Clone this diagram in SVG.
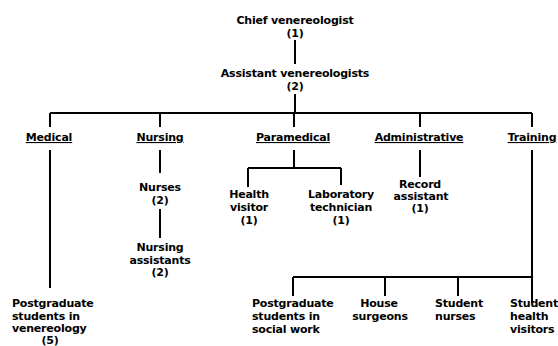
<svg xmlns="http://www.w3.org/2000/svg" width="558" height="346" viewBox="0 0 558 346">
<style>
text{font-family:"DejaVu Sans","Liberation Sans",Arial,sans-serif;font-weight:bold;font-size:11px;fill:#000;letter-spacing:-0.2px}
.c{text-anchor:middle}
.u{text-decoration:underline}
#connectors path{stroke:#000;stroke-width:2;fill:none}
</style>
<rect width="558" height="346" fill="#fff"/>
<g id="connectors">
<path d="M295 40V64M295 94V113M50 113H532M50 113V127M160 113V127M294 113V127M420 113V127M532 113V127"/>
<path d="M50 150V288M160 150V173M160 209V238M294 150V168M248 168H341M248 168V187M341 168V185M420 150V177"/>
<path d="M532 150V303M293 277H532M293 277V296M385 277V296M458 277V296"/>
</g>
<g id="chief"><text class="c" x="295" y="24">Chief venereologist</text><text class="c" x="295" y="37">(1)</text></g>
<g id="assistant"><text class="c" x="295" y="77">Assistant venereologists</text><text class="c" x="295" y="90">(2)</text></g>
<g id="medical"><text class="c u" x="49" y="141">Medical</text></g>
<g id="nursing"><text class="c u" x="160" y="141">Nursing</text></g>
<g id="paramedical"><text class="c u" x="293" y="141">Paramedical</text></g>
<g id="administrative"><text class="c u" x="419" y="141">Administrative</text></g>
<g id="training"><text class="c u" x="532" y="141">Training</text></g>
<g id="nurses"><text class="c" x="160" y="191">Nurses</text><text class="c" x="160" y="204">(2)</text></g>
<g id="nursing-assistants"><text class="c" x="160" y="251">Nursing</text><text class="c" x="160" y="264">assistants</text><text class="c" x="160" y="276">(2)</text></g>
<g id="health-visitor"><text class="c" x="249" y="198">Health</text><text class="c" x="249" y="211">visitor</text><text class="c" x="249" y="224">(1)</text></g>
<g id="lab-tech"><text class="c" x="341" y="198">Laboratory</text><text class="c" x="341" y="211">technician</text><text class="c" x="341" y="224">(1)</text></g>
<g id="record"><text class="c" x="420" y="188">Record</text><text class="c" x="421" y="200">assistant</text><text class="c" x="420" y="212">(1)</text></g>
<g id="pg-venereology"><text x="12" y="307">Postgraduate</text><text x="12" y="320">students in</text><text x="12" y="332">venereology</text><text class="c" x="50" y="344">(5)</text></g>
<g id="pg-social"><text x="252" y="307">Postgraduate</text><text x="252" y="320">students in</text><text x="252" y="333">social work</text></g>
<g id="house"><text class="c" x="379" y="307">House</text><text class="c" x="380" y="320">surgeons</text></g>
<g id="student-nurses"><text x="435" y="307">Student</text><text x="435" y="320">nurses</text></g>
<g id="student-hv"><text x="510" y="307">Student</text><text x="510" y="320">health</text><text x="510" y="333">visitors</text></g>
</svg>
